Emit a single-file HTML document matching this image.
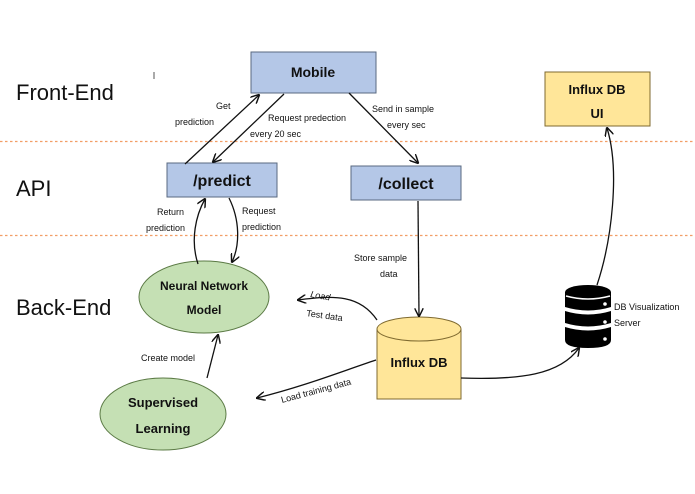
<!DOCTYPE html>
<html><head><meta charset="utf-8"><style>
html,body{margin:0;padding:0;background:#fff;}
svg{display:block;}
text{font-family:"Liberation Sans","DejaVu Sans",sans-serif;fill:#111;}
</style></head><body>
<svg width="695" height="494" viewBox="0 0 695 494" xmlns="http://www.w3.org/2000/svg">
<defs>
<marker id="a" viewBox="0 0 10 10" refX="9" refY="5" markerWidth="7" markerHeight="7" orient="auto-start-reverse">
<path d="M0,0 L10,5 L0,10" fill="none" stroke="#111" stroke-width="1.6"/>
</marker>
</defs>
<line x1="0" y1="141.5" x2="695" y2="141.5" stroke="#ed7d31" stroke-opacity="0.75" stroke-width="1.2" stroke-dasharray="2.5,2.5"/>
<line x1="0" y1="235.5" x2="695" y2="235.5" stroke="#ed7d31" stroke-opacity="0.75" stroke-width="1.2" stroke-dasharray="2.5,2.5"/>

<text x="16" y="100" font-size="22">Front-End</text>
<text x="16" y="196" font-size="22">API</text>
<text x="16" y="315" font-size="22">Back-End</text>
<line x1="154" y1="72" x2="154" y2="79" stroke="#555" stroke-width="1"/>

<rect x="251" y="52" width="125" height="41" fill="#b4c7e7" stroke="#5a6a80"/>
<text x="313" y="77" font-size="14" font-weight="bold" text-anchor="middle">Mobile</text>
<rect x="167" y="163" width="110" height="34" fill="#b4c7e7" stroke="#5a6a80"/>
<text x="222" y="186" font-size="16" font-weight="bold" text-anchor="middle">/predict</text>
<rect x="351" y="166" width="110" height="34" fill="#b4c7e7" stroke="#5a6a80"/>
<text x="406" y="189" font-size="16" font-weight="bold" text-anchor="middle">/collect</text>
<rect x="545" y="72" width="105" height="54" fill="#ffe699" stroke="#7f6a30"/>
<text x="597" y="94" font-size="13" font-weight="bold" text-anchor="middle">Influx DB</text>
<text x="597" y="118" font-size="13" font-weight="bold" text-anchor="middle">UI</text>

<ellipse cx="204" cy="297" rx="65" ry="36" fill="#c5e0b4" stroke="#5b7a45"/>
<text x="204" y="290" font-size="12" font-weight="bold" text-anchor="middle">Neural Network</text>
<text x="204" y="314" font-size="12" font-weight="bold" text-anchor="middle">Model</text>
<ellipse cx="163" cy="414" rx="63" ry="36" fill="#c5e0b4" stroke="#5b7a45"/>
<text x="163" y="407" font-size="13" font-weight="bold" text-anchor="middle">Supervised</text>
<text x="163" y="433" font-size="13" font-weight="bold" text-anchor="middle">Learning</text>

<path d="M377,329 L377,399 L461,399 L461,329" fill="#ffe699" stroke="#7f6a30"/>
<ellipse cx="419" cy="329" rx="42" ry="12" fill="#ffe699" stroke="#7f6a30"/>
<text x="419" y="367" font-size="13" font-weight="bold" text-anchor="middle">Influx DB</text>

<g fill="#000">
<ellipse cx="588" cy="292" rx="23" ry="7"/>
<path d="M565,292 L565,307 Q588,314 611,307 L611,292 Z"/>
<path d="M565,311 Q588,318 611,311 L611,323 Q588,330 565,323 Z"/>
<path d="M565,327 Q588,334 611,327 L611,340 Q611,348 588,348 Q565,348 565,340 Z"/>
</g>
<path d="M566,296 Q588,302 610,296" fill="none" stroke="#fff" stroke-width="1.5"/>
<circle cx="605" cy="304" r="1.8" fill="#fff"/><circle cx="605" cy="322" r="1.8" fill="#fff"/><circle cx="605" cy="339" r="1.8" fill="#fff"/>
<text x="614" y="310" font-size="9">DB Visualization</text>
<text x="614" y="326" font-size="9">Server</text>

<g fill="none" stroke="#111" stroke-width="1.3">
<line x1="185" y1="164" x2="259" y2="95" marker-end="url(#a)"/>
<line x1="284" y1="94" x2="213" y2="162" marker-end="url(#a)"/>
<line x1="349" y1="93" x2="418" y2="163" marker-end="url(#a)"/>
<line x1="418" y1="201" x2="419" y2="316" marker-end="url(#a)"/>
<path d="M198,264 C190,240 196,215 205,199" marker-end="url(#a)"/>
<path d="M229,198 C240,220 240,245 232,262" marker-end="url(#a)"/>
<path d="M377,320 C360,295 335,295 298,300" marker-end="url(#a)"/>
<path d="M376,360 C340,372 305,386 257,398" marker-end="url(#a)"/>
<line x1="207" y1="378" x2="218" y2="335" marker-end="url(#a)"/>
<path d="M461,378 C520,380 560,375 579,348" marker-end="url(#a)"/>
<path d="M597,285 C612,240 620,170 607,128" marker-end="url(#a)"/>
</g>

<g font-size="9">
<text x="216" y="109">Get</text>
<text x="175" y="125">prediction</text>
<text x="268" y="121">Request predection</text>
<text x="250" y="137">every 20 sec</text>
<text x="372" y="112">Send in sample</text>
<text x="387" y="128">every sec</text>
<text x="157" y="215">Return</text>
<text x="146" y="231">prediction</text>
<text x="242" y="214">Request</text>
<text x="242" y="230">prediction</text>
<text x="354" y="261">Store sample</text>
<text x="380" y="277">data</text>
<text x="141" y="361">Create model</text>
<text x="310" y="297" transform="rotate(10 310 297)" font-style="italic">Load</text>
<text x="306" y="316" transform="rotate(8 306 316)">Test data</text>
<text x="282" y="403" transform="rotate(-15 282 403)">Load training data</text>
</g>
</svg>
</body></html>
